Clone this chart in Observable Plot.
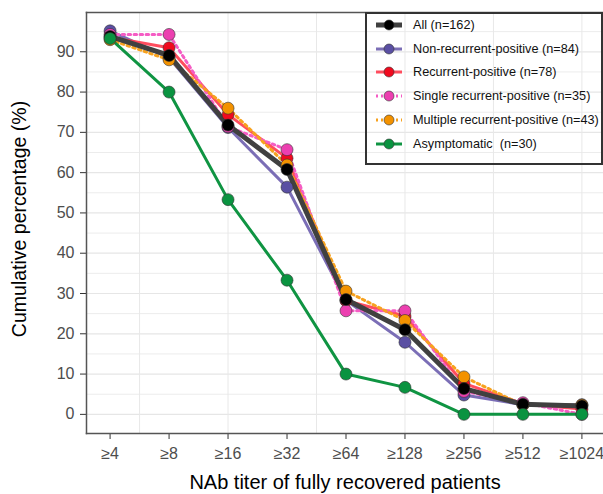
<!DOCTYPE html>
<html>
<head>
<meta charset="utf-8">
<script src="https://cdn.jsdelivr.net/npm/d3@7"></script>
<script src="https://cdn.jsdelivr.net/npm/@observablehq/plot@0.6"></script>
<style>
  html, body { margin: 0; padding: 0; background: #fff; }
  #wrap { position: relative; width: 603px; height: 494px; font-family: "Liberation Sans", Arial, sans-serif; }
  #legend { position: absolute; left: 365px; top: 12px; width: 234px; height: 149px; border: 2px solid #333; box-sizing: content-box; }
  .item { position: absolute; left: 0; height: 20px; display: flex; align-items: center; font-size: 12.7px; color: #111; white-space: pre; }
  .item svg { margin-left: 8px; margin-right: 10px; flex: none; }
</style>
</head>
<body>
<div id="wrap"><div id="legend"></div></div>
<script>
const tickLabels = ["≥4", "≥8", "≥16", "≥32", "≥64", "≥128", "≥256", "≥512", "≥1024"];
const seriesNames = ["All (n=162)", "Non-recurrent-positive (n=84)", "Recurrent-positive (n=78)", "Single recurrent-positive (n=35)", "Multiple recurrent-positive (n=43)", "Asymptomatic  (n=30)"];
const allVals      = [93.8, 89.1, 71.8, 60.8, 28.5, 21.0, 6.4, 2.5, 2.1];
const nonRecVals   = [95.2, 88.5, 71.2, 56.4, 28.3, 17.9, 4.8, 2.4, 2.4];
const recVals      = [93.6, 91.0, 74.4, 63.6, 28.2, 24.4, 7.7, 2.6, 1.3];
const singleVals   = [94.3, 94.3, 71.4, 65.7, 25.7, 25.7, 5.7, 2.9, 0.0];
const multipleVals = [93.0, 88.0, 76.0, 61.9, 30.6, 23.3, 9.3, 2.3, 2.3];
const asymVals     = [93.3, 80.0, 53.3, 33.3, 10.0, 6.7, 0.0, 0.0, 0.0];
const yMajor = [0, 10, 20, 30, 40, 50, 60, 70, 80, 90];
const yMinor = [5, 15, 25, 35, 45, 55, 65, 75, 85, 95];
const xGrid = [0.5, 2, 3.5, 5, 6.5, 8];

const styles = [
  {line: "#404040", dot: "#000000", w: 5, dash: null, op: 1},
  {line: "#7466b2", dot: "#5a4fa3", w: 3, dash: null, op: 0.95},
  {line: "#ff3a4c", dot: "#f00a1e", w: 3, dash: null, op: 0.9},
  {line: "#f55cc4", dot: "#ec3fb0", w: 3, dash: "2.5,3.5", op: 1},
  {line: "#f7a21e", dot: "#f39200", w: 3, dash: "2.5,3.5", op: 1},
  {line: "#0f9442", dot: "#0a9340", w: 3, dash: null, op: 1}
];
const allSeries = [allVals, nonRecVals, recVals, singleVals, multipleVals, asymVals];
const drawOrder = [1, 2, 3, 4, 0, 5];

const rows = [];
drawOrder.forEach(s => allSeries[s].forEach((v, i) => rows.push({s, i, v})));

const marks = [
  Plot.ruleY(yMinor, {stroke: "#ececec", strokeWidth: 1}),
  Plot.ruleY(yMajor, {stroke: "#e6e6e6", strokeWidth: 1.2}),
  Plot.ruleX(xGrid, {stroke: "#e8e8e8", strokeWidth: 1}),
];
for (const s of drawOrder) {
  const st = styles[s];
  marks.push(Plot.line(rows.filter(r => r.s === s), {x: "i", y: "v", stroke: st.line, strokeWidth: st.w, strokeDasharray: st.dash, strokeOpacity: st.op, strokeLinejoin: "round", strokeLinecap: st.dash ? "round" : "butt"}));
}
for (const s of drawOrder) {
  const st = styles[s];
  marks.push(Plot.dot(rows.filter(r => r.s === s), {x: "i", y: "v", r: 6, fill: st.dot, stroke: "#333", strokeWidth: 0.6}));
}
marks.push(
  Plot.axisX(d3.range(tickLabels.length), {tickFormat: i => tickLabels[i], tickSize: 6, tickPadding: 8, fontSize: 16, stroke: "#333", fill: "#4d4d4d", label: null}),
  Plot.axisY(yMajor, {tickSize: 6, tickPadding: 6, fontSize: 16, stroke: "#333", fill: "#4d4d4d", label: null}),
  Plot.frame({anchor: "left", stroke: "#555", strokeWidth: 1.5}),
  Plot.frame({anchor: "bottom", stroke: "#555", strokeWidth: 1.5}),
  Plot.frame({anchor: "top", stroke: "#555", strokeWidth: 1.5}),
  Plot.text(["Cumulative percentage (%)"], {frameAnchor: "left", textAnchor: "middle", rotate: -90, dx: -67, dy: -4, fontSize: 19.5, fill: "#000"}),
  Plot.text(["NAb titer of fully recovered patients"], {frameAnchor: "bottom", textAnchor: "middle", dy: 55, fontSize: 20, fill: "#000"})
);

const chart = Plot.plot({
  width: 603,
  height: 494,
  marginLeft: 86,
  marginRight: 0,
  marginTop: 12,
  marginBottom: 61,
  style: {fontFamily: "'Liberation Sans', Arial, sans-serif", background: "transparent"},
  x: {domain: [-0.4, 8.4], range: [86, 605], axis: null},
  y: {domain: [-4.75, 99.75], range: [433, 12], axis: null},
  marks
});
const wrap = document.getElementById("wrap");
wrap.insertBefore(chart, wrap.firstChild);

const legend = d3.select("#legend");
seriesNames.forEach((name, k) => {
  const st = styles[k];
  const item = legend.append("div").attr("class", "item").style("top", (1 + k * 23.7) + "px");
  const svg = item.append("svg").attr("width", 28).attr("height", 14);
  svg.append("line").attr("x1", 1).attr("x2", 27).attr("y1", 7).attr("y2", 7)
    .attr("stroke", st.line).attr("stroke-width", st.w).attr("stroke-dasharray", st.dash ? "2,3" : null).attr("stroke-opacity", st.op);
  svg.append("circle").attr("cx", 14).attr("cy", 7).attr("r", 5).attr("fill", st.dot).attr("stroke", "#333").attr("stroke-width", 0.6);
  item.append("span").text(name);
});
</script>
</body>
</html>
